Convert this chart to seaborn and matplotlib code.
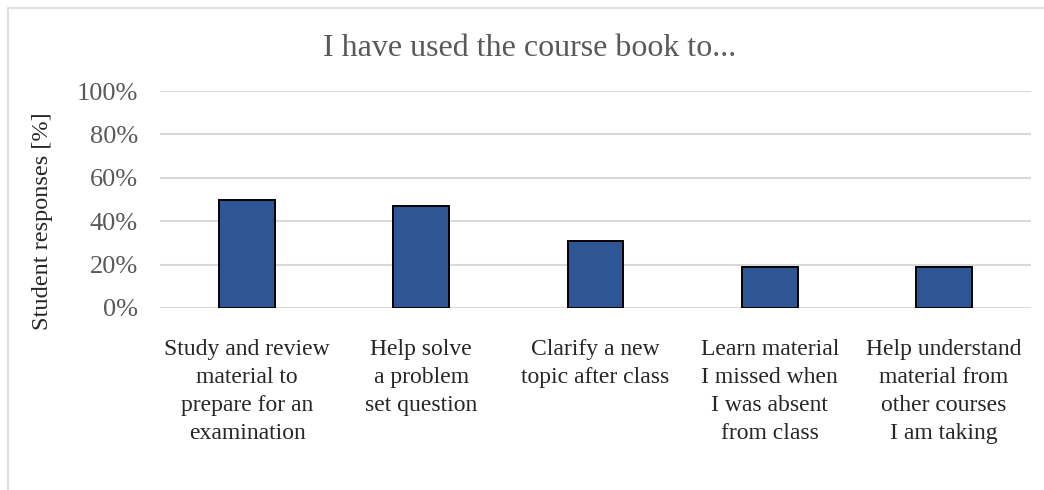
import matplotlib.pyplot as plt
import matplotlib.patches as patches
import numpy as np
import seaborn as sns
import pandas as pd

# -- data --
categories = ["Study and review\nmaterial to\nprepare for an\nexamination",
              "Help solve\na problem\nset question",
              "Clarify a new\ntopic after class",
              "Learn material\nI missed when\nI was absent\nfrom class",
              "Help understand\nmaterial from\nother courses\nI am taking"]
responses = [50, 47, 31, 19, 19]
yticks = [0, 20, 40, 60, 80, 100]

sns.set_style("white")
plt.rcParams.update({'font.family'     : ['Liberation Serif', 'DejaVu Serif'],
                     'axes.linewidth'  : 0,
                     'xtick.major.size': 0,
                     'ytick.major.size': 0})

df = pd.DataFrame({'cat': categories, 'val': responses})

fig = plt.figure(figsize=(10.44, 4.9), dpi=100)
W, H = 1044, 490
ax = fig.add_axes([160 / W, (H - 308) / H, 871 / W, 217 / H])

sns.barplot(data=df, x='cat', y='val', ax=ax, color='#2E5594',
            edgecolor='black', linewidth=1.4, width=0.32, saturation=1)

ax.set_ylim(0, 100)
ax.set_yticks(yticks)
ax.set_yticklabels([f"{t}%" for t in yticks], fontsize=19, color='#595959')
ax.tick_params(axis='y', pad=16)
ax.tick_params(axis='x', pad=22, labelsize=17, labelcolor='#262626')
for lbl in ax.get_xticklabels():
    lbl.set_linespacing(1.45)
ax.yaxis.grid(True, color='#d9d9d9', linewidth=1.5)
ax.set_axisbelow(True)
for s in ax.spines.values():
    s.set_visible(False)
ax.set_xlabel('')
ax.set_ylabel('')

fig.text(43 / W, (H - 221) / H, 'Student responses [%]', rotation=90,
         ha='center', va='center', fontsize=17.5, color='#262626')
fig.text(530 / W, (H - 56) / H, 'I have used the course book to...',
         ha='center', va='baseline', fontsize=23, color='#595959')

# light outer frame (chart area border, cut off on right and bottom)
frame = patches.Rectangle((8 / W, -0.1), 1.2, (H - 8) / H + 0.1,
                          transform=fig.transFigure, fill=False,
                          edgecolor='#d9d9d9', linewidth=1.2)
fig.patches.append(frame)

plt.savefig('out.png', dpi=100)
